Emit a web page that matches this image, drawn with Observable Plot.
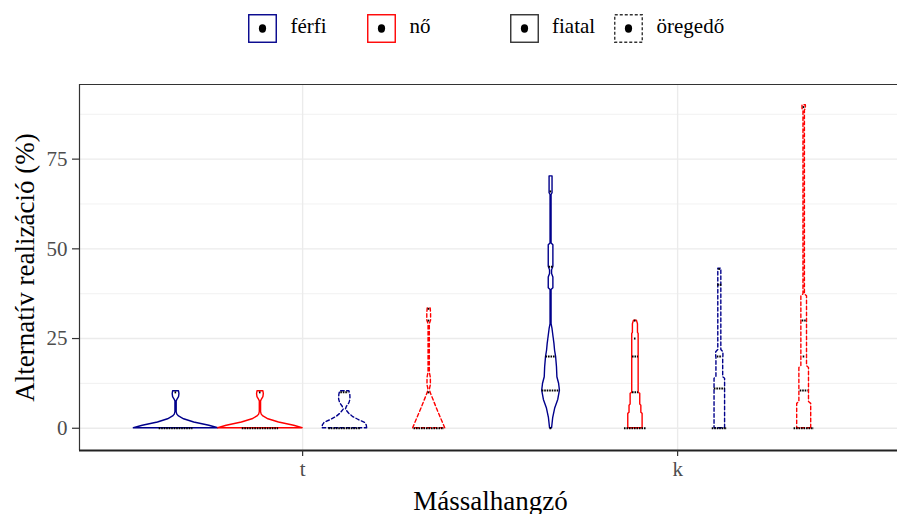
<!DOCTYPE html>
<html><head><meta charset="utf-8">
<script src="https://cdn.jsdelivr.net/npm/d3@7"></script>
<script src="https://cdn.jsdelivr.net/npm/@observablehq/plot@0.6"></script>
<style>
body{margin:0;background:#fff;font-family:"Liberation Serif","Times New Roman",serif;}
#legend{position:relative;width:897px;height:60px;}
.key{position:absolute;top:14px;}
.lab{position:absolute;top:28px;transform:translateY(-55%);font-size:21px;line-height:1;color:#000;white-space:nowrap;}
#chart svg{display:block;overflow:visible;}
</style></head><body>
<div id="legend"></div><div id="chart"></div>
<script>
const consonants = ["t", "k"];
const sexes = ["férfi", "nő"];
const ages = ["fiatal", "öregedő"];
const yTicks = [0, 25, 50, 75];
const yMinor = [12.5, 37.5, 62.5, 87.5];

// violin outlines: [value (%), relative density, 100 = widest violin]
const t_ferfi_fiatal = [[0,100],[0.7,79],[1.6,43],[2.5,19],[3.3,7],[3.8,3],[4.5,1.5],[7.5,1.5],[8,3.5],[8.7,7],[9.5,8],[10.3,7]];
const t_no_fiatal    = [[0,100],[0.7,80],[1.6,44],[2.5,19],[3.3,7],[3.8,3],[4.5,1.5],[7.5,1.5],[8,3.5],[8.7,7],[9.5,8],[10.3,7]];
const t_ferfi_oreg   = [[0,53],[0.8,52],[1.5,48],[2.3,33],[3.2,19],[4.1,10],[5.2,2.5],[6,5],[7,11],[8,13.5],[9.3,13],[10.3,11]];
const t_no_oreg      = [[0,38],[5,20],[10,3],[11,2],[12,4],[14,4],[15.5,1.5],[29,1.5],[30,4.5],[32,4.5],[33.4,3.5]];
const k_ferfi_fiatal = [[0,2.4],[2.8,5],[5.6,10],[7.9,17],[10.5,21],[12.4,19],[14.2,15],[17,14],[19.8,12],[21.6,9.5],[23.5,8],[25.3,6],[27.6,3.5],[29,1.2],[38.5,1.2],[39,5.5],[42,5.5],[43,2.4],[44,2.4],[45,5.5],[51,5.5],[51.5,1.2],[65,1.2],[65.5,3.5],[70.2,3.5]];
const k_no_fiatal    = [[0,17],[4,17],[4.3,14],[6.3,14],[6.6,11.4],[9.6,11.4],[9.9,7.6],[26.3,7.6],[26.6,6],[29,6],[30,3.5]];
const k_ferfi_oreg   = [[0,12.5],[13.8,12.5],[14.2,8],[19.5,8],[20,8.5],[21.2,8.5],[21.8,3.6],[44.5,3.6]];
const k_no_oreg      = [[0,16.6],[6.8,16.6],[7.3,11.4],[16.8,11.4],[17.3,6.7],[36.8,6.7],[37.3,1.7],[88.6,1.7],[89,4],[90,4]];

// jittered observations: [value (%), horizontal spread (relative)]
const t_ferfi_fiatal_pts = [[0,40],[10,2.4]];
const t_no_fiatal_pts    = [[0,43],[10,2.4]];
const t_ferfi_oreg_pts   = [[0,38],[10,9.5]];
const t_no_oreg_pts      = [[0,36],[10,2.4],[30,2.4],[33.3,2.4]];
const k_ferfi_fiatal_pts = [[0,2.4],[10.5,21],[20,12],[45,5],[66,2.4]];
const k_no_fiatal_pts    = [[0,26],[10,7],[20,7],[25,2.4],[30,2.4]];
const k_ferfi_oreg_pts   = [[0,18],[11.1,13],[20,6],[40,5],[44.4,2.4]];
const k_no_oreg_pts      = [[0,24],[10.5,9.5],[20,2.4],[30,4.7],[89.5,2.4]];

const violins = [
  {cons:"t", sex:"férfi", age:"fiatal",  outline:t_ferfi_fiatal, pts:t_ferfi_fiatal_pts},
  {cons:"t", sex:"nő",    age:"fiatal",  outline:t_no_fiatal,    pts:t_no_fiatal_pts},
  {cons:"t", sex:"férfi", age:"öregedő", outline:t_ferfi_oreg,   pts:t_ferfi_oreg_pts},
  {cons:"t", sex:"nő",    age:"öregedő", outline:t_no_oreg,      pts:t_no_oreg_pts},
  {cons:"k", sex:"férfi", age:"fiatal",  outline:k_ferfi_fiatal, pts:k_ferfi_fiatal_pts},
  {cons:"k", sex:"nő",    age:"fiatal",  outline:k_no_fiatal,    pts:k_no_fiatal_pts},
  {cons:"k", sex:"férfi", age:"öregedő", outline:k_ferfi_oreg,   pts:k_ferfi_oreg_pts},
  {cons:"k", sex:"nő",    age:"öregedő", outline:k_no_oreg,      pts:k_no_oreg_pts}
];

const sexColor = {"férfi": "#00008B", "nő": "#FF0000"};
const ageDash = {"fiatal": null, "öregedő": "3.5,2.5"};
const slot = 0.225, half = slot / 2;
const xDomain = [0.405, 0.405 + 818 / 375];
const yDomain = [-6.2, 95.8];

function center(v) {
  const s = ages.indexOf(v.age) * 2 + sexes.indexOf(v.sex);
  return consonants.indexOf(v.cons) + 1 + (s - 1.5) * slot;
}

const marks = [
  Plot.gridY({ticks: yMinor, stroke: "#EBEBEB", strokeOpacity: 1, strokeWidth: 0.7}),
  Plot.gridY({ticks: yTicks, stroke: "#EBEBEB", strokeOpacity: 1, strokeWidth: 1.4}),
  Plot.gridX({ticks: [1, 2], stroke: "#EBEBEB", strokeOpacity: 1, strokeWidth: 1.4})
];
for (const v of violins) {
  const cx = center(v);
  marks.push(Plot.areaX(v.outline, {
    y: d => d[0], x1: d => cx - d[1] / 100 * half, x2: d => cx + d[1] / 100 * half,
    fill: "white", stroke: sexColor[v.sex], strokeWidth: 1.4,
    strokeDasharray: ageDash[v.age], curve: "linear"
  }));
}
for (const v of violins) {
  const cx = center(v);
  marks.push(Plot.ruleY(v.pts, {
    y: d => d[0], x1: d => cx - Math.max(d[1], 2.4) / 100 * half, x2: d => cx + Math.max(d[1], 2.4) / 100 * half,
    stroke: "black", strokeWidth: 2, strokeDasharray: "1.6,0.9"
  }));
}
marks.push(
  Plot.ruleY([yDomain[1]], {stroke: "#333", strokeWidth: 1.2}),
  Plot.ruleX([xDomain[0]], {stroke: "#333", strokeWidth: 1.2}),
  Plot.ruleY([yDomain[0]], {stroke: "#222", strokeWidth: 2.2}),
  Plot.axisY({ticks: yTicks, tickSize: 7, tickPadding: 5, fontSize: 21, fill: "#4D4D4D", stroke: "#333", strokeWidth: 1.2, label: null}),
  Plot.axisX({ticks: [1, 2], tickFormat: d => consonants[d - 1], tickSize: 6, tickPadding: 5, fontSize: 21, fill: "#4D4D4D", stroke: "#333", strokeWidth: 1.2, label: null}),
  Plot.text(["Alternatív realizáció (%)"], {text: d => d, frameAnchor: "left", textAnchor: "middle", dx: -54, rotate: -90, fontSize: 27, fill: "black"}),
  Plot.text(["Mássalhangzó"], {text: d => d, frameAnchor: "bottom", textAnchor: "middle", dx: 2, dy: 59, fontSize: 27, fill: "black"})
);

const chart = Plot.plot({
  width: 897, height: 454,
  marginTop: 24, marginBottom: 64, marginLeft: 79, marginRight: 0,
  x: {type: "linear", domain: xDomain},
  y: {domain: yDomain},
  style: {fontFamily: "Liberation Serif, Times New Roman, serif", background: "white", overflow: "visible"},
  marks
});
document.getElementById("chart").appendChild(chart);

// legend
const legend = document.getElementById("legend");
const items = [
  {label: sexes[0], x: 248, stroke: sexColor["férfi"], dash: null},
  {label: sexes[1], x: 367, stroke: sexColor["nő"], dash: null},
  {label: ages[0], x: 509.5, stroke: "#333", dash: null},
  {label: ages[1], x: 614, stroke: "#333", dash: "3,2"}
];
for (const it of items) {
  const ns = "http://www.w3.org/2000/svg";
  const s = document.createElementNS(ns, "svg");
  s.setAttribute("width", 29); s.setAttribute("height", 29);
  s.setAttribute("class", "key");
  s.style.left = it.x + "px";
  const r = document.createElementNS(ns, "rect");
  r.setAttribute("x", 0.75); r.setAttribute("y", 0.75); r.setAttribute("width", 27.5); r.setAttribute("height", 27.5);
  r.setAttribute("fill", "white"); r.setAttribute("stroke", it.stroke); r.setAttribute("stroke-width", 1.4);
  if (it.dash) r.setAttribute("stroke-dasharray", it.dash);
  s.appendChild(r);
  const c = document.createElementNS(ns, "ellipse");
  c.setAttribute("cx", 14.5); c.setAttribute("cy", 14.5); c.setAttribute("rx", 3.6); c.setAttribute("ry", 4.2);
  c.setAttribute("fill", "black");
  s.appendChild(c);
  legend.appendChild(s);
  const t = document.createElement("div");
  t.className = "lab"; t.textContent = it.label; t.style.left = (it.x + 42.5) + "px";
  legend.appendChild(t);
}
</script>
</body></html>
